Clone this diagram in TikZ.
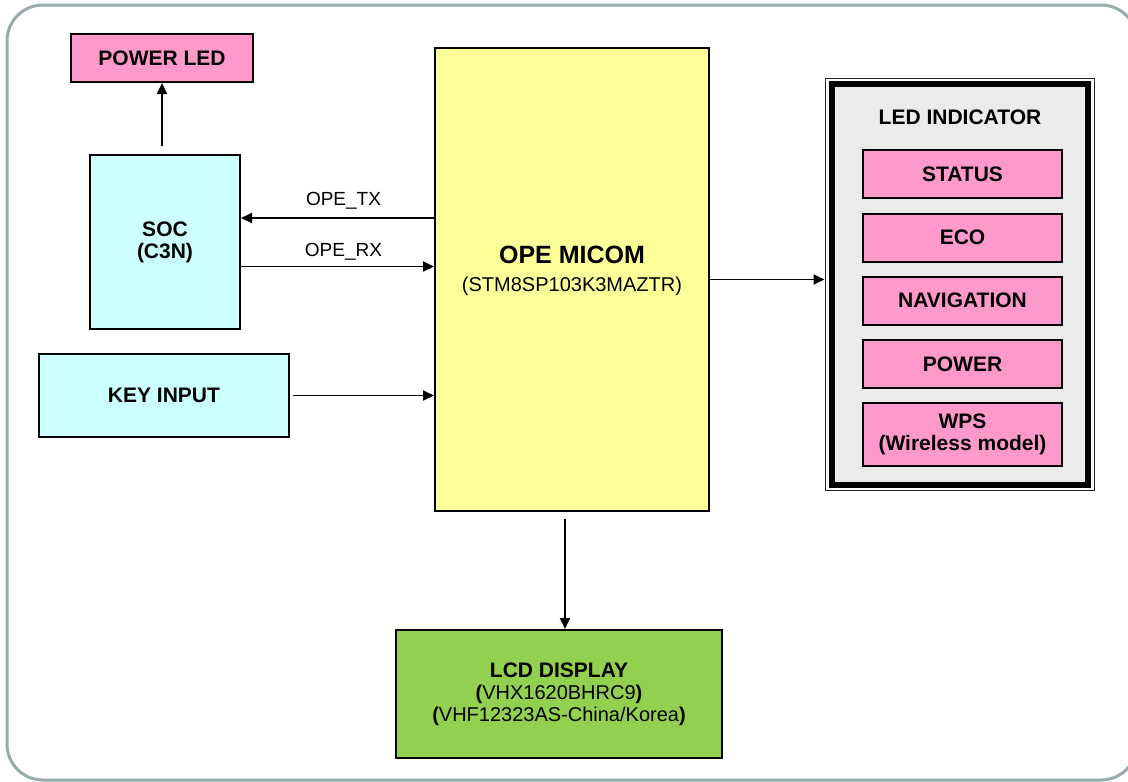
\documentclass[tikz,border=0pt]{standalone}
\usepackage{fontspec}
\setmainfont{Liberation Sans}
\usetikzlibrary{arrows.meta,calc}
\definecolor{pinkf}{HTML}{FF99CC}
\definecolor{cyanf}{HTML}{CCFFFF}
\definecolor{yellowf}{HTML}{FFFF99}
\definecolor{greenf}{HTML}{92D050}
\definecolor{grayf}{HTML}{EBEBEB}
\definecolor{framec}{HTML}{98ACAC}
\tikzset{
  boxstyle/.style={draw=black, line width=2pt, inner sep=0pt, align=center,
    font=\fontsize{21}{22}\selectfont\bfseries},
  pinkbox/.style={boxstyle, fill=pinkf},
  cyanbox/.style={boxstyle, fill=cyanf},
  arr/.style={draw=black, line width=1.8pt, -{Triangle[length=11pt,width=10pt]}},
  lbl/.style={font=\fontsize{19}{20}\selectfont, anchor=base, inner sep=0pt},
}
\begin{document}
\begin{tikzpicture}[x=1pt,y=-1pt]
\useasboundingbox (0,0) rectangle (1128,782);
\fill[white] (0,0) rectangle (1128,782);
\draw[framec, line width=3pt, rounded corners=36pt] (7,5) rectangle (1137,780);

% left side
\node[pinkbox, minimum width=182pt, minimum height=48pt] (pled) at (162,58) {POWER LED};
\node[cyanbox, minimum width=150pt, minimum height=174pt] (soc) at (165,242) {SOC\\(C3N)};
\node[cyanbox, minimum width=250pt, minimum height=83pt] (key) at (164,395.5) {KEY INPUT};

% micom
\node[boxstyle, fill=yellowf, minimum width=274pt, minimum height=463pt] (micom) at (572,279.5) {};
\node[align=center, inner sep=0pt, font=\fontsize{20}{28}\selectfont] (micomtxt) at (572,271)
  {{\fontsize{25}{28}\selectfont\bfseries OPE MICOM}\\
   (STM8SP103K3MAZTR)};

% LED indicator frame
\node[draw=black!85, line width=1pt, minimum width=269pt, minimum height=412pt, inner sep=0pt] (led) at (959.5,284) {};
\node[draw=black, line width=6pt, fill=grayf, minimum width=256pt, minimum height=401pt, inner sep=0pt] (ledin) at (959.5,284.5) {};
\node[font=\fontsize{21}{22}\selectfont\bfseries, inner sep=0pt] (ledt) at (960,117) {LED INDICATOR};
\node[pinkbox, minimum width=199pt, minimum height=48pt] (status) at (962.5,174) {STATUS};
\node[pinkbox, minimum width=199pt, minimum height=48pt] (eco) at (962.5,237.5) {ECO};
\node[pinkbox, minimum width=199pt, minimum height=48pt] (nav) at (962.5,300.5) {NAVIGATION};
\node[pinkbox, minimum width=199pt, minimum height=48pt] (pow) at (962.5,364) {POWER};
\node[pinkbox, minimum width=199pt, minimum height=63pt] (wps) at (962.5,434.5) {WPS\\(Wireless model)};

% LCD
\node[boxstyle, fill=greenf, minimum width=326pt, minimum height=128pt,
  font=\fontsize{20}{22}\selectfont] (lcd) at (559,694)
  {{\fontsize{21}{22}\selectfont\bfseries LCD DISPLAY}\\
   \textbf{(}VHX1620BHRC9\textbf{)}\\
   \textbf{(}VHF12323AS-China/Korea\textbf{)}};

% connectors
\draw[arr, shorten <=8pt] (pled.south |- soc.north) -- (pled.south);
\coordinate (txs) at ([yshift=24pt]soc.east);
\coordinate (rxs) at ([yshift=-24.5pt]soc.east);
\draw[arr] (txs -| micom.west) -- (txs);
\draw[arr] (rxs) -- (rxs -| micom.west);
\node[lbl] (txl) at ($(txs)!0.5!(txs -| micom.west)+(6,-13)$) {OPE\_TX};
\node[lbl] (rxl) at ($(rxs)!0.5!(rxs -| micom.west)+(6,-10)$) {OPE\_RX};
\draw[arr, shorten <=3pt] (key.east) -- (key.east -| micom.west);
\draw[arr] (micom.east) -- (micom.east -| led.west);
\coordinate (ls) at ([xshift=-7pt]micom.south);
\draw[arr, shorten <=7pt] (ls) -- (ls |- lcd.north);
\end{tikzpicture}
\end{document}
